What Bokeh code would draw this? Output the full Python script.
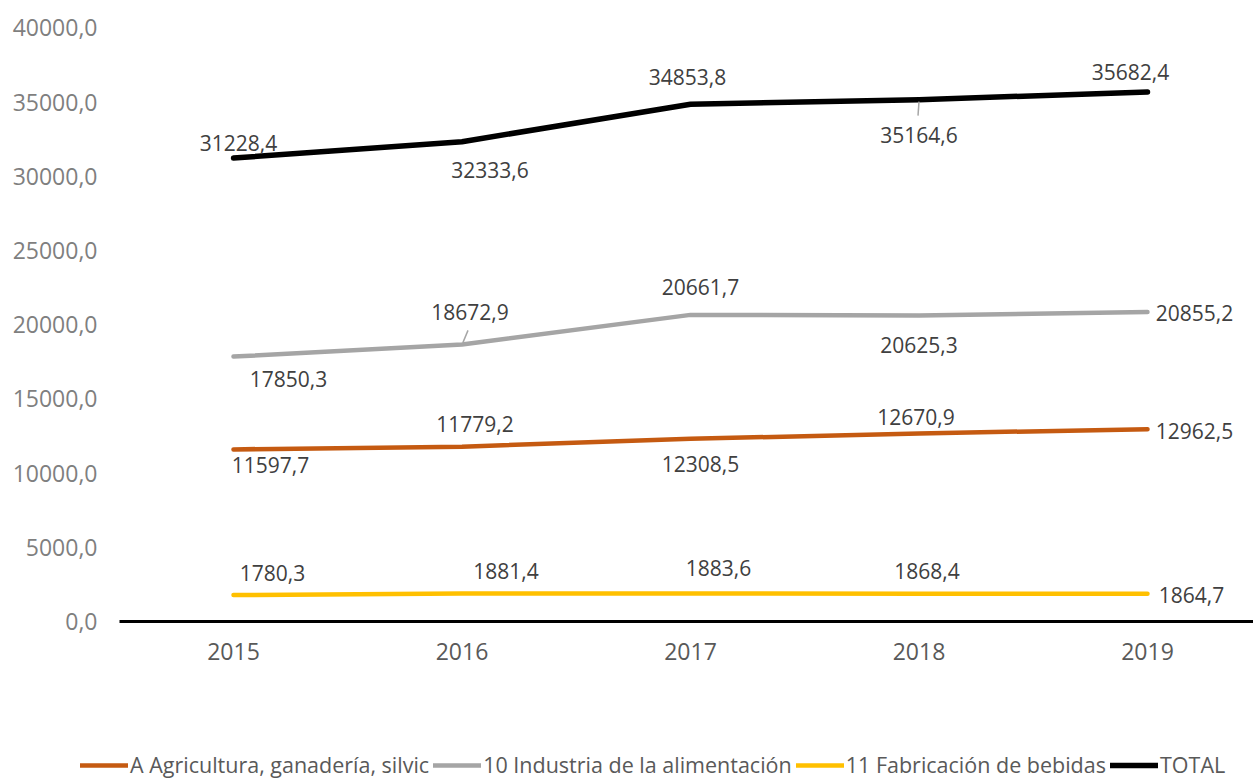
from bokeh.plotting import figure
from bokeh.models import (Range1d, FixedTicker, CustomJSTickFormatter, Legend, LegendItem,
                          ColumnDataSource)
from bokeh.core.properties import value
from bokeh.embed import file_html
from bokeh.resources import INLINE

# --- data -------------------------------------------------------------
years = [2015, 2016, 2017, 2018, 2019]
agricultura = [11597.7, 11779.2, 12308.5, 12670.9, 12962.5]
alimentacion = [17850.3, 18672.9, 20661.7, 20625.3, 20855.2]
bebidas = [1780.3, 1881.4, 1883.6, 1868.4, 1864.7]
total = [31228.4, 32333.6, 34853.8, 35164.6, 35682.4]
series_names = ["A Agricultura, ganadería, silvic", "10 Industria de la alimentación",
                "11 Fabricación de bebidas", "TOTAL"]
y_ticks = [0, 5000, 10000, 15000, 20000, 25000, 30000, 35000, 40000]

# --- geometry (pixels) -------------------------------------------------
W, H = 1253, 780
FONT = "Open Sans"
X_FIRST_PX, X_STEP_PX = 233, 228.5      # centre of first year, spacing between years
AXIS_LEFT_PX = 119                       # where the plot area starts
ZERO_PX, TOP_TICK_PX = 621, 27.4         # pixel rows of 0 and of the top tick

px_x = 1 / X_STEP_PX                                        # years per pixel
px_y = (y_ticks[-1] - y_ticks[0]) / (ZERO_PX - TOP_TICK_PX)  # units per pixel

x_start = years[0] - X_FIRST_PX * px_x
x_end = x_start + W * px_x
y_end = y_ticks[0] + ZERO_PX * px_y
y_start = y_end - H * px_y
x_axis_left = x_start + AXIS_LEFT_PX * px_x

p = figure(width=W, height=H, output_backend="svg", toolbar_location=None,
           x_range=Range1d(x_start, x_end), y_range=Range1d(y_start, y_end),
           min_border_left=0, min_border_right=0, min_border_top=0,
           min_border_bottom=0)
p.outline_line_color = None
p.xgrid.visible = False
p.ygrid.visible = False
p.background_fill_color = "white"
p.border_fill_color = "white"

# axes drawn inside the frame at fixed positions
p.xaxis.fixed_location = 0
p.xaxis.bounds = (x_axis_left, x_end)
p.xaxis.ticker = FixedTicker(ticks=years)
p.xaxis.axis_line_color = "black"
p.xaxis.axis_line_width = 3
p.xaxis.major_tick_line_color = None
p.xaxis.minor_tick_line_color = None
p.xaxis.major_label_standoff = 15
p.xaxis.major_label_text_font = FONT
p.xaxis.major_label_text_font_size = "23px"
p.xaxis.major_label_text_color = "#595959"

p.yaxis.fixed_location = x_axis_left
p.yaxis.ticker = FixedTicker(ticks=y_ticks)
p.yaxis.formatter = CustomJSTickFormatter(code="return tick.toFixed(1).replace('.', ',');")
p.yaxis.axis_line_color = None
p.yaxis.major_tick_line_color = None
p.yaxis.minor_tick_line_color = None
p.yaxis.major_label_standoff = 16
p.yaxis.major_label_text_font = FONT
p.yaxis.major_label_text_font_size = "23px"
p.yaxis.major_label_text_color = "#7f7f7f"

colors = ["#C55A11", "#A5A5A5", "#FFC000", "#000000"]
widths = [4.5, 4.5, 4.5, 5.5]
all_series = [agricultura, alimentacion, bebidas, total]

# data-label offsets (pixels) relative to each point
label_offsets = [
    [(37, 16), (13, -23), (10, 25), (-3, -16), (47, 2)],
    [(55, 22), (8, -32), (10, -28), (0, 30), (47, 1)],
    [(39, -22), (44, -23), (28, -26), (8, -23), (44, 1)],
    [(5, -15), (28, 28), (-3, -27), (0, 35), (-17, -20)],
]

renderers = []
for vals, col, lw, offs in zip(all_series, colors, widths, label_offsets):
    r = p.line(years, vals, line_color=col, line_width=lw,
               line_cap="round", line_join="round")
    renderers.append(r)
    src = ColumnDataSource(dict(
        x=[yr + dx * px_x for yr, (dx, dy) in zip(years, offs)],
        y=[v - dy * px_y for v, (dx, dy) in zip(vals, offs)],
        t=[f"{v:.1f}".replace(".", ",") for v in vals],
    ))
    p.text("x", "y", text="t", source=src, text_font=value(FONT),
           text_font_size="21px", text_color="#404040",
           text_align="center", text_baseline="middle")

# leader lines from labels to their points
leaders = [
    (alimentacion, 1, (1, -2), (6, -14)),
    (total, 3, (0, 2), (-1, 16)),
]
for vals, i, (ax, ay), (bx, by) in leaders:
    p.segment(x0=[years[i] + ax * px_x], y0=[vals[i] - ay * px_y],
              x1=[years[i] + bx * px_x], y1=[vals[i] - by * px_y],
              line_color="#a6a6a6", line_width=1.5)

legend = Legend(
    items=[LegendItem(label=n, renderers=[r]) for n, r in zip(series_names, renderers)],
    orientation="horizontal", location=(80, 1),
    label_text_font=FONT, label_text_font_size="21.5px", label_text_color="#595959",
    glyph_width=48, glyph_height=20, label_standoff=2, spacing=4,
    padding=0, margin=0, border_line_alpha=0, background_fill_alpha=0,
)
p.add_layout(legend, "center")

open("out.html", "w").write(file_html(p, INLINE))
